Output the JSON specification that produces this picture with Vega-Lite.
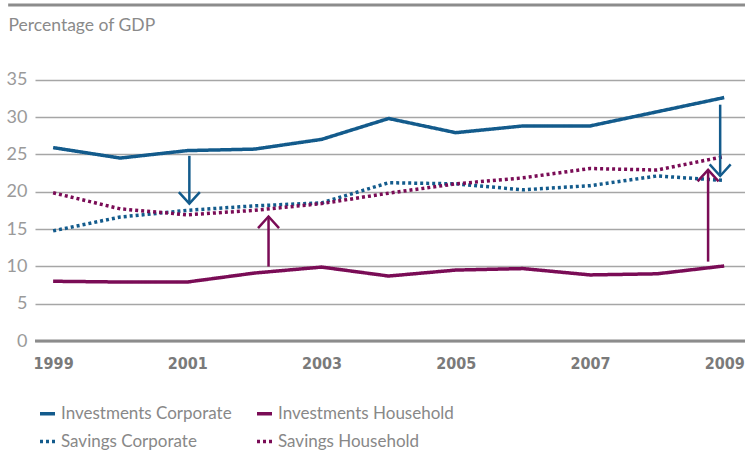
{
  "$schema": "https://vega.github.io/schema/vega-lite/v6.json",
  "width": 710,
  "height": 336,
  "autosize": {"type": "none"},
  "padding": {"left": 35, "top": 5, "right": 0, "bottom": 116},
  "background": "white",
  "config": {"view": {"stroke": null}, "font": "Lato"},
  "datasets": {
    "series": [
      {"year": 1999, "series": "Investments Corporate", "value": 25.9},
      {"year": 2000, "series": "Investments Corporate", "value": 24.5},
      {"year": 2001, "series": "Investments Corporate", "value": 25.5},
      {"year": 2002, "series": "Investments Corporate", "value": 25.7},
      {"year": 2003, "series": "Investments Corporate", "value": 27.0},
      {"year": 2004, "series": "Investments Corporate", "value": 29.8},
      {"year": 2005, "series": "Investments Corporate", "value": 27.9},
      {"year": 2006, "series": "Investments Corporate", "value": 28.8},
      {"year": 2007, "series": "Investments Corporate", "value": 28.8},
      {"year": 2008, "series": "Investments Corporate", "value": 30.7},
      {"year": 2009, "series": "Investments Corporate", "value": 32.6},
      {"year": 1999, "series": "Investments Household", "value": 8.0},
      {"year": 2000, "series": "Investments Household", "value": 7.9},
      {"year": 2001, "series": "Investments Household", "value": 7.9},
      {"year": 2002, "series": "Investments Household", "value": 9.1},
      {"year": 2003, "series": "Investments Household", "value": 9.9},
      {"year": 2004, "series": "Investments Household", "value": 8.7},
      {"year": 2005, "series": "Investments Household", "value": 9.5},
      {"year": 2006, "series": "Investments Household", "value": 9.7},
      {"year": 2007, "series": "Investments Household", "value": 8.85},
      {"year": 2008, "series": "Investments Household", "value": 9.0},
      {"year": 2009, "series": "Investments Household", "value": 10.05},
      {"year": 1999, "series": "Savings Corporate", "value": 14.75},
      {"year": 2000, "series": "Savings Corporate", "value": 16.6},
      {"year": 2001, "series": "Savings Corporate", "value": 17.5},
      {"year": 2002, "series": "Savings Corporate", "value": 18.1},
      {"year": 2003, "series": "Savings Corporate", "value": 18.5},
      {"year": 2004, "series": "Savings Corporate", "value": 21.2},
      {"year": 2005, "series": "Savings Corporate", "value": 21.05},
      {"year": 2006, "series": "Savings Corporate", "value": 20.25},
      {"year": 2007, "series": "Savings Corporate", "value": 20.8},
      {"year": 2008, "series": "Savings Corporate", "value": 22.1},
      {"year": 2009, "series": "Savings Corporate", "value": 21.5},
      {"year": 1999, "series": "Savings Household", "value": 19.85},
      {"year": 2000, "series": "Savings Household", "value": 17.7},
      {"year": 2001, "series": "Savings Household", "value": 16.9},
      {"year": 2002, "series": "Savings Household", "value": 17.5},
      {"year": 2003, "series": "Savings Household", "value": 18.4},
      {"year": 2004, "series": "Savings Household", "value": 19.8},
      {"year": 2005, "series": "Savings Household", "value": 21.05},
      {"year": 2006, "series": "Savings Household", "value": 21.85},
      {"year": 2007, "series": "Savings Household", "value": 23.1},
      {"year": 2008, "series": "Savings Household", "value": 22.9},
      {"year": 2009, "series": "Savings Household", "value": 24.7}
    ],
    "arrows": [
      {"series": "Investments Corporate", "year": 2001.03, "start": 24.8, "tip": 18.4, "dir": "down"},
      {"series": "Investments Household", "year": 2002.21, "start": 9.96, "tip": 16.67, "dir": "up"},
      {"series": "Investments Corporate", "year": 2008.94, "start": 31.65, "tip": 22.1, "dir": "down"},
      {"series": "Investments Household", "year": 2008.76, "start": 10.63, "tip": 22.93, "dir": "up"}
    ]
  },
  "layer": [
    {
      "data": {"values": [{}]},
      "mark": {"type": "rule", "color": "#8c8c8c", "strokeWidth": 3},
      "encoding": {
        "y": {"datum": 45, "type": "quantitative", "scale": {"domain": [0, 45], "nice": false, "zero": true}},
        "x": {"datum": 1998.33, "type": "quantitative", "scale": {"domain": [1998.73, 2009.31], "nice": false, "zero": false}},
        "x2": {"datum": 2009.31}
      }
    },
    {
      "data": {"name": "series"},
      "mark": {"type": "line", "strokeWidth": 3.5, "strokeCap": "butt"},
      "encoding": {
        "x": {
          "field": "year", "type": "quantitative",
          "scale": {"domain": [1998.73, 2009.31], "nice": false, "zero": false},
          "axis": {
            "values": [1999, 2001, 2003, 2005, 2007, 2009],
            "format": "d", "title": null, "domain": false, "ticks": false, "grid": false,
            "labelFont": "'DejaVu Sans Condensed', 'Roboto', sans-serif", "labelFontWeight": "bold", "labelFontSize": 16,
            "labelColor": "#7a7a7a", "labelPadding": 14
          }
        },
        "y": {
          "field": "value", "type": "quantitative",
          "scale": {"domain": [0, 45], "nice": false},
          "axis": {
            "values": [0, 5, 10, 15, 20, 25, 30, 35],
            "title": "Percentage of GDP", "titleAngle": 0, "titleAlign": "left", "titleBaseline": "middle",
            "titleX": -27, "titleY": 20, "titleFontSize": 17.5, "titleFontWeight": "normal", "titleColor": "#8a8a8a",
            "titleFont": "Lato",
            "domain": false, "ticks": false, "grid": true, "gridColor": "#a6a6a6", "gridWidth": 1.5,
            "labelFontSize": 18, "labelColor": "#9a9a9a", "labelPadding": 8, "labelFont": "Lato"
          }
        },
        "color": {
          "field": "series", "type": "nominal",
          "scale": {
            "domain": ["Investments Corporate", "Investments Household", "Savings Corporate", "Savings Household"],
            "range": ["#135b8c", "#7a0c56", "#135b8c", "#7a0c56"]
          },
          "legend": {
            "title": null, "orient": "none", "legendX": 3, "legendY": 399, "direction": "horizontal", "columns": 2,
            "symbolType": "stroke", "symbolSize": 225, "symbolStrokeWidth": 3.5, "labelLimit": 400,
            "labelFontSize": 17, "labelColor": "#888888", "labelOffset": 4, "rowPadding": 10, "columnPadding": 18,
            "labelFont": "Lato"
          }
        },
        "strokeDash": {
          "field": "series", "type": "nominal",
          "scale": {
            "domain": ["Investments Corporate", "Investments Household", "Savings Corporate", "Savings Household"],
            "range": [[1, 0], [1, 0], [3, 3], [3, 3]]
          },
          "legend": {
            "title": null, "orient": "none", "legendX": 3, "legendY": 399, "direction": "horizontal", "columns": 2,
            "symbolType": "stroke", "symbolSize": 225, "symbolStrokeWidth": 3.5, "labelLimit": 400,
            "labelFontSize": 17, "labelColor": "#888888", "labelOffset": 4, "rowPadding": 10, "columnPadding": 18,
            "labelFont": "Lato"
          }
        }
      }
    },
    {
      "data": {"values": [{}]},
      "mark": {"type": "rule", "color": "#8c8c8c", "strokeWidth": 3},
      "encoding": {
        "y": {"datum": 0, "type": "quantitative"}
      }
    },
    {
      "data": {"name": "arrows"},
      "mark": {"type": "rule", "strokeWidth": 2.5},
      "encoding": {
        "x": {"field": "year", "type": "quantitative"},
        "y": {"field": "start", "type": "quantitative"},
        "y2": {"field": "tip"},
        "color": {"field": "series", "type": "nominal", "legend": null}
      }
    },
    {
      "data": {"name": "arrows"},
      "mark": {"type": "point", "filled": false, "strokeWidth": 2.5, "opacity": 1, "size": 441},
      "encoding": {
        "x": {"field": "year", "type": "quantitative"},
        "y": {"field": "tip", "type": "quantitative"},
        "color": {"field": "series", "type": "nominal", "legend": null},
        "shape": {
          "field": "dir", "type": "nominal", "legend": null,
          "scale": {"domain": ["down", "up"], "range": ["M-1,-1.1L0,0L1,-1.1", "M-1,1.1L0,0L1,1.1"]}
        }
      }
    }
  ]
}
